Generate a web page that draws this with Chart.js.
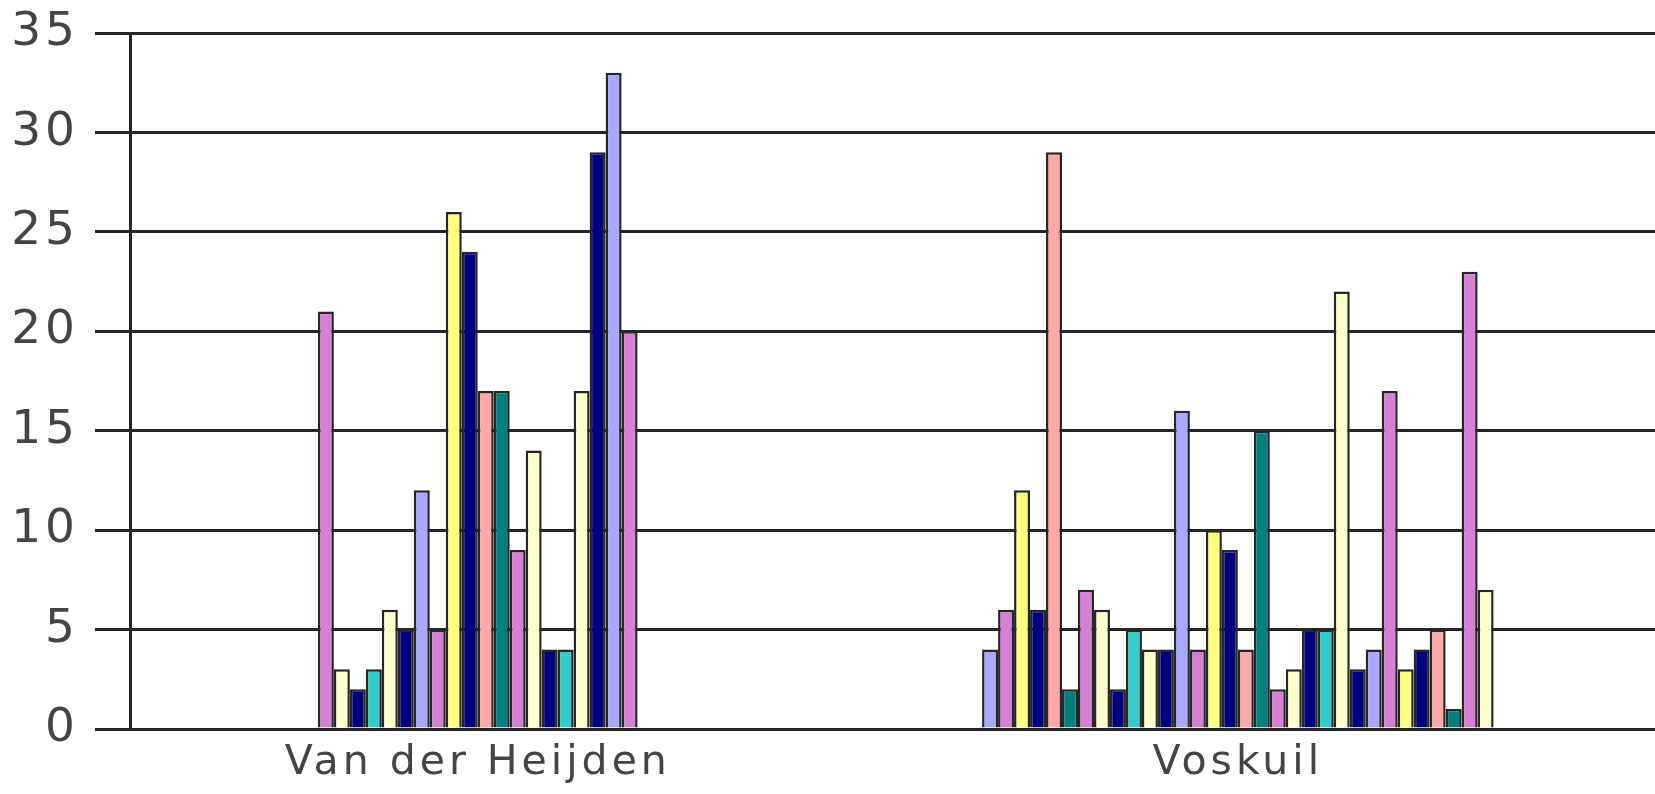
<!DOCTYPE html>
<html>
<head>
<meta charset="utf-8">
<script src="https://cdn.jsdelivr.net/npm/chart.js@4/dist/chart.umd.min.js"></script>
<style>
  html, body { margin: 0; padding: 0; background: #fff; overflow: hidden; }
  #chart { display: block; }
</style>
</head>
<body>
<canvas id="chart" width="1655" height="794"></canvas>
<script>
const categories = ["Van der Heijden", "Voskuil"];
const yTicks = [0, 5, 10, 15, 20, 25, 30, 35];

// 32 series per group (null = no bar)
const vanDerHeijden = [
  null, null, null, null, null, null,
  21, 3, 2, 3, 6, 5, 12, 5, 26, 24, 17, 17, 9, 14, 4, 4, 17, 29, 33, 20,
  null, null, null, null, null, null
];
const voskuil = [
  4, 6, 12, 6, 29, 2, 7, 6, 2, 5, 4, 4,
  16, 4, 10, 9, 4, 15, 2, 3, 5, 5, 22, 3,
  4, 17, 3, 4, 5, 1, 23, 7
];

const palette = [
  "#a8a8ff", "#d580d5", "#ffff80", "#000080", "#ffa8a8", "#008080",
  "#d580d5", "#ffffcc", "#000080", "#33cccc", "#ffffcc", "#000080"
];

const datasets = voskuil.map((v, i) => ({
  label: "Serie " + (i + 1),
  data: [
    { x: 0, y: vanDerHeijden[i] },
    { x: 1, y: v }
  ],
  backgroundColor: palette[i % palette.length],
  borderColor: "#262626",
  borderWidth: 2.5,
  barPercentage: 1,
  categoryPercentage: 0.673
}));

const letterSpacing = {
  id: "letterSpacing",
  beforeDraw(chart) {
    chart.ctx.letterSpacing = "4px";
  }
};

new Chart(document.getElementById("chart"), {
  type: "bar",
  data: { datasets },
  plugins: [letterSpacing],
  options: {
    responsive: false,
    animation: false,
    devicePixelRatio: 1,
    layout: { padding: { top: 33, right: 0, bottom: 0, left: 0 } },
    plugins: {
      legend: { display: false },
      tooltip: { enabled: false }
    },
    scales: {
      x: {
        type: "linear",
        min: -0.4575,
        max: 1.5488,
        offset: false,
        grid: { display: false, drawTicks: false },
        border: { display: false },
        afterBuildTicks: (scale) => {
          scale.ticks = categories.map((c, i) => ({ value: i }));
        },
        afterFit: (scale) => {
          scale.height = 65;
          scale.paddingLeft = 0;
          scale.paddingRight = 0;
        },
        ticks: {
          autoSkip: false,
          maxRotation: 0,
          padding: 10,
          color: "#444",
          font: { family: "DejaVu Sans", size: 41 },
          callback: (value) => categories[value]
        }
      },
      y: {
        min: 0,
        max: 35,
        afterBuildTicks: (scale) => {
          scale.ticks = yTicks.map((t) => ({ value: t }));
        },
        afterFit: (scale) => {
          scale.width = 130;
          scale.paddingTop = 0;
          scale.paddingBottom = 0;
        },
        grid: { color: "#262626", lineWidth: 3, tickLength: 35, drawTicks: true },
        border: { display: true, color: "#262626", width: 3 },
        ticks: {
          padding: 16,
          color: "#444",
          font: { family: "DejaVu Sans", size: 47 }
        }
      }
    }
  }
});
</script>
</body>
</html>
